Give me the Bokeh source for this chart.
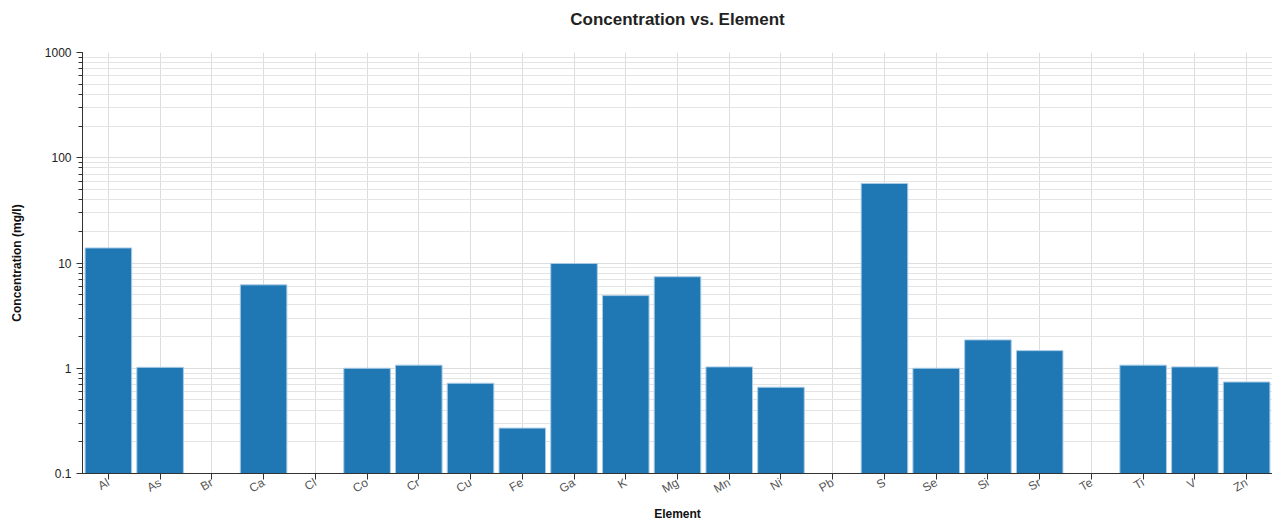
import math
from bokeh.plotting import figure
from bokeh.models import ColumnDataSource, Range1d, FactorRange, NumeralTickFormatter, Title
from bokeh.embed import file_html
from bokeh.resources import INLINE

elements = ["Al", "As", "Br", "Ca", "Cl", "Co", "Cr", "Cu", "Fe", "Ga", "K", "Mg",
            "Mn", "Ni", "Pb", "S", "Se", "Si", "Sr", "Te", "Ti", "V", "Zn"]
concentration = [13.9, 1.02, None, 6.2, None, 1.0, 1.07, 0.72, 0.27, 9.9, 4.9, 7.4,
                 1.03, 0.66, None, 57.0, 1.0, 1.86, 1.47, None, 1.07, 1.03, 0.74]
chart_title = "Concentration vs. Element"

present = [(e, c) for e, c in zip(elements, concentration) if c is not None]
src = ColumnDataSource(dict(el=[e for e, _ in present],
                            conc=[c for _, c in present],
                            base=[0.01 for _ in present]))

FONT = "Liberation Sans"

p = figure(width=1272, height=523, output_backend="svg", toolbar_location=None,
           x_range=FactorRange(*elements, range_padding=0.0),
           y_range=Range1d(0.1, 1000), y_axis_type="log",
           title=chart_title,
           min_border_left=82, min_border_right=0, min_border_top=52, min_border_bottom=49)

p.vbar(x="el", top="conc", bottom="base", width=0.9, source=src,
       fill_color="#1f77b4", line_color="#a8cbe6", line_width=1)

p.title.align = "center"
p.title.text_font = FONT
p.title.text_font_size = "17px"
p.title.text_font_style = "bold"
p.title.text_color = "#222222"
p.title.standoff = 0

# empty spacer panel between the title and the frame
spacer = Title(text=" ", text_font_size="1px", standoff=21)
p.add_layout(spacer, "above")

p.outline_line_color = None

p.xaxis.axis_label = "Element"
p.yaxis.axis_label = "Concentration (mg/l)"
for ax in (p.xaxis[0], p.yaxis[0]):
    ax.axis_label_text_font = FONT
    ax.axis_label_text_font_size = "12px"
    ax.axis_label_text_font_style = "bold"
    ax.axis_label_text_color = "#111111"
    ax.major_label_text_font = FONT
    ax.major_label_text_font_size = "12px"
    ax.axis_line_color = "#333333"
    ax.major_tick_line_color = "#333333"
    ax.minor_tick_line_color = "#333333"
    ax.major_tick_out = 6
    ax.major_tick_in = 0
    ax.minor_tick_out = 4
    ax.minor_tick_in = 0

p.yaxis.formatter = NumeralTickFormatter(format="0.[0]")
p.xaxis.major_label_text_color = "#555555"
p.yaxis.major_label_text_color = "#222222"
p.xaxis.major_label_orientation = math.pi / 6
p.xaxis.major_label_standoff = 2
p.xaxis.axis_label_standoff = 2
p.yaxis.axis_label_standoff = 18

p.xgrid.grid_line_color = "#dddddd"
p.ygrid.grid_line_color = "#dddddd"
p.ygrid.minor_grid_line_color = "#e4e4e4"

open("out.html", "w").write(file_html(p, INLINE))
